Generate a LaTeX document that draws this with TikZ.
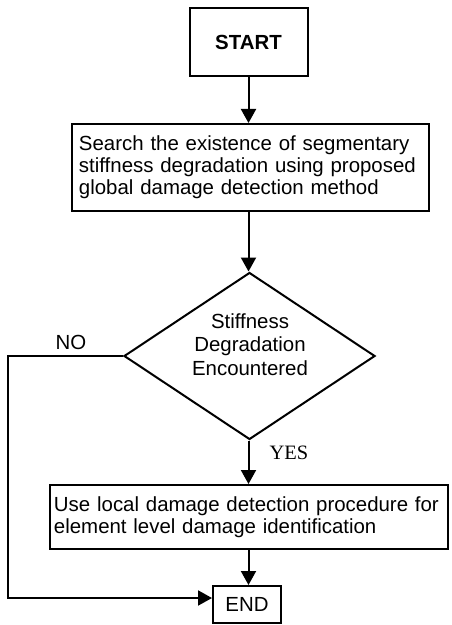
\documentclass[tikz,border=0pt]{standalone}
\usepackage{fontspec}
\setmainfont{Liberation Sans}
\newfontfamily\yesfont{Liberation Serif}
\usetikzlibrary{arrows.meta,shapes.geometric}
\begin{document}
\begin{tikzpicture}[x=1bp,y=-1bp, line width=2bp,
  txt/.style={font=\fontsize{20.5}{22}\selectfont},
  box/.style={draw, rectangle, inner sep=0pt, txt},
  arr/.style={-{Triangle[width=15bp,length=14bp]}}]
\useasboundingbox (0,0) rectangle (452,625);
\node[box, minimum width=118bp, minimum height=68bp, font=\bfseries\fontsize{20.5}{22}\selectfont] (start) at (248.5,42) {START};
\node[box, minimum width=357bp, minimum height=87bp, text width=343bp, align=left] (search) at (250.5,167.5)
  {Search the existence of segmentary\\stiffness degradation using proposed\\global damage detection method};
\node[draw, diamond, minimum width=251bp, minimum height=167bp, inner sep=0pt] (dec) at (249.5,356) {};
\node[font=\fontsize{20.5}{23.5}\selectfont, align=center] (dectext) at (250,344.5) {Stiffness\\Degradation\\Encountered};
\node[box, minimum width=398bp, minimum height=64bp, text width=390bp, align=left] (use) at (249,517)
  {Use local damage detection procedure for\\element level damage identification};
\node[box, minimum width=68bp, minimum height=37bp] (end) at (247,604.5) {END};
\node[txt] (no) at (71,342) {NO};
\node[font=\yesfont\fontsize{20.5}{22}\selectfont] (yes) at (289,453) {YES};
\coordinate (nocorner) at (8,356);
\draw[arr] (start.south) -- (start.south |- search.north);
\draw[arr] (start.south |- search.south) -- (start.south |- dec.north);
\draw[arr] (start.south |- dec.south) -- (start.south |- use.north);
\draw[arr] (start.south |- use.south) -- (start.south |- end.north);
\draw[arr] (dec.west) -- (nocorner) |- ([yshift=6.5bp]end.west);
\end{tikzpicture}
\end{document}
